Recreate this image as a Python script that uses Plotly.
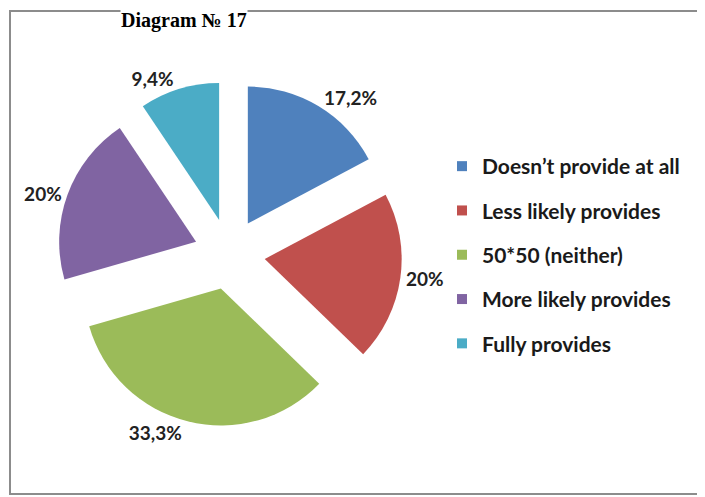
import plotly.graph_objects as go

# Diagram data
categories = ["Doesn’t provide at all", "Less likely provides", "50*50 (neither)",
              "More likely provides", "Fully provides"]
values = [17.2, 20.0, 33.3, 20.0, 9.4]
value_labels = ["17,2%", "20%", "33,3%", "20%", "9,4%"]
colors = ["#4F81BD", "#C0504D", "#9BBB59", "#8064A2", "#4BACC6"]

# page body has an 8px margin, so the figure is a bit smaller than the window
W, H = 697, 489
font_family = "Lato, Open Sans, sans-serif"

fig = go.Figure()

fig.add_trace(go.Pie(
    labels=categories,
    values=values,
    text=value_labels,
    textinfo="text",
    textposition="outside",
    textfont=dict(family=font_family, size=19, color="#222222", weight="bold"),
    marker=dict(colors=colors, line=dict(width=0)),
    pull=0.26,
    sort=False,
    direction="clockwise",
    rotation=0,
    showlegend=False,
    domain=dict(x=[49 / W, 394 / W], y=[1 - 419 / H, 1 - 73 / H]),
))

# legend built from dummy traces so the rows can be spaced out
for name, col in zip(categories, colors):
    fig.add_trace(go.Scatter(
        x=[None], y=[None], mode="markers", name=name, legendgroup=name,
        marker=dict(symbol="square", size=10, color=col),
    ))

fig.update_layout(
    width=W, height=H,
    margin=dict(l=0, r=0, t=0, b=0, autoexpand=False),
    paper_bgcolor="white",
    plot_bgcolor="white",
    xaxis=dict(visible=False),
    yaxis=dict(visible=False),
    legend=dict(
        x=434 / W, y=1 - 138 / H, xanchor="left", yanchor="top",
        font=dict(family=font_family, size=21, color="#1a1a1a", weight="bold"),
        tracegroupgap=14, itemwidth=30, bgcolor="rgba(0,0,0,0)",
    ),
    shapes=[dict(
        type="rect", xref="paper", yref="paper",
        x0=2 / W, x1=692 / W, y0=1 - 486 / H, y1=1 - 3 / H,
        line=dict(color="#8c8c8c", width=2),
    )],
    annotations=[dict(
        text="<b>Diagram № 17</b>", xref="paper", yref="paper",
        x=176 / W, y=1, xanchor="center", yanchor="top",
        showarrow=False, bgcolor="white", borderpad=0,
        font=dict(family="Liberation Serif, Times New Roman, serif", size=20, color="black"),
    )],
)

fig.write_html("out.html")
